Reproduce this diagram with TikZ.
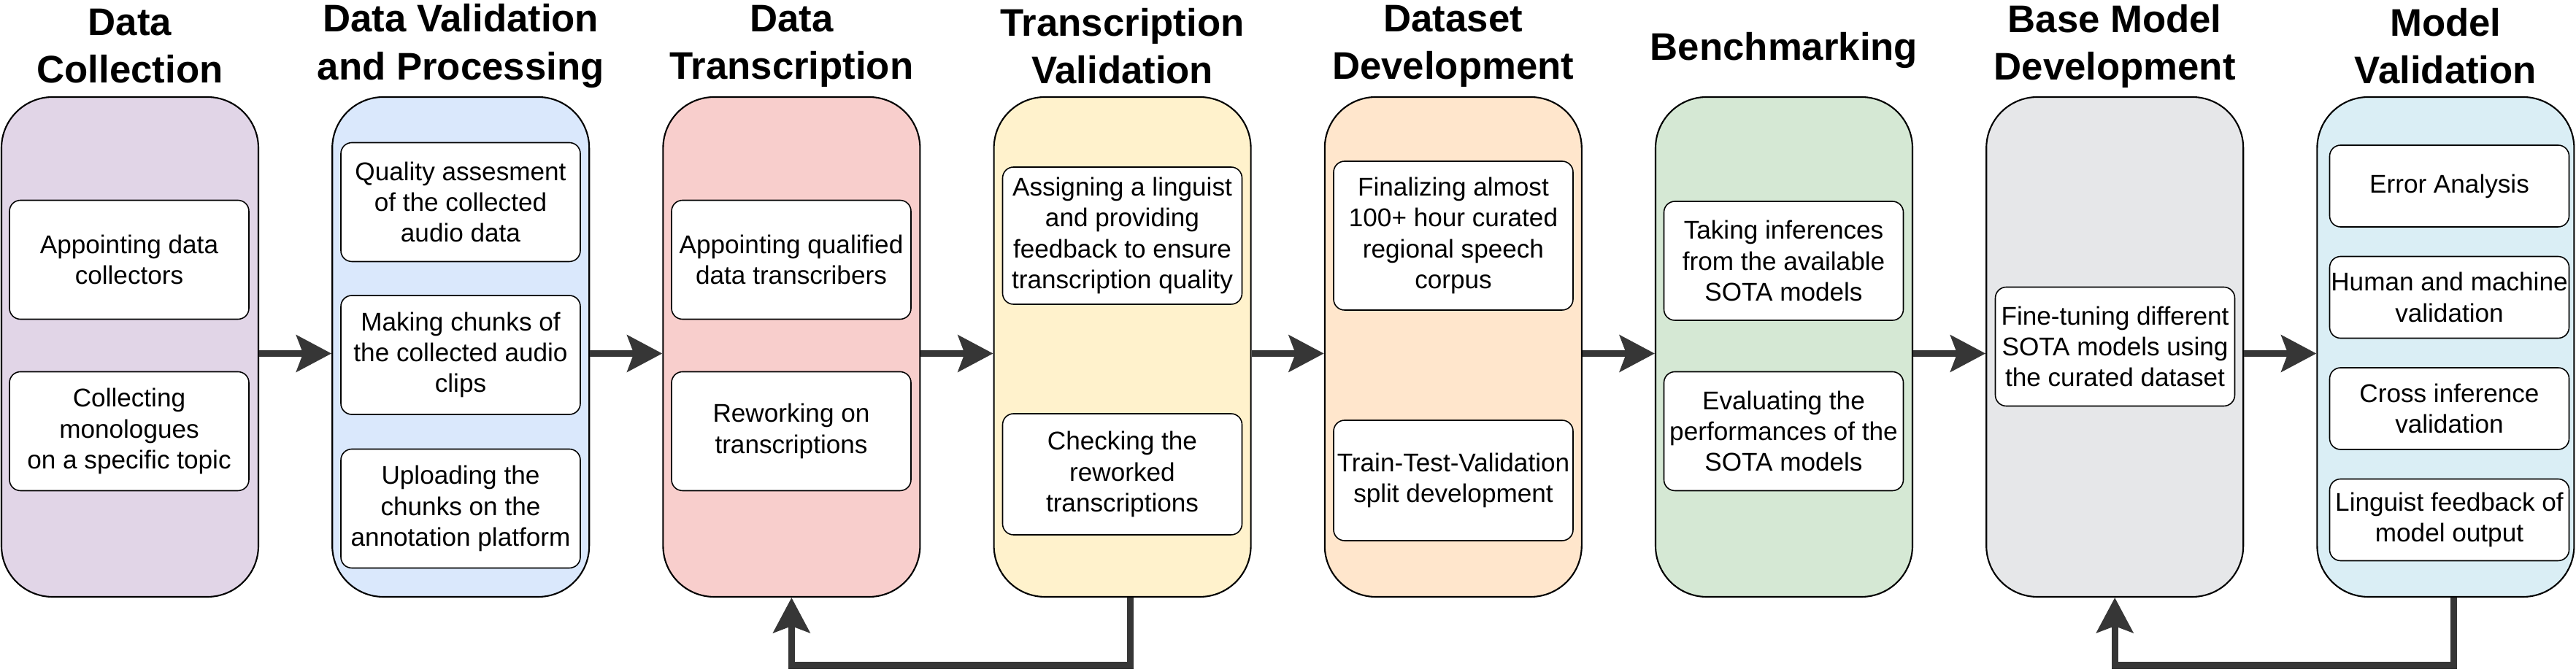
\documentclass[tikz,border=0pt]{standalone}
\usepackage{fontspec}
\setmainfont{Liberation Sans}
\usetikzlibrary{arrows.meta}

\definecolor{collectbg}{HTML}{E1D5E7}
\definecolor{validbg}{HTML}{DAE8FC}
\definecolor{transbg}{HTML}{F8CECC}
\definecolor{checkbg}{HTML}{FFF2CC}
\definecolor{datasetbg}{HTML}{FFE6CC}
\definecolor{benchbg}{HTML}{D5E8D4}
\definecolor{basebg}{HTML}{E6E7E9}
\definecolor{modelbg}{HTML}{DAEEF5}
\definecolor{arrowgray}{HTML}{363636}

\begin{document}
\begin{tikzpicture}[
		stage/.style={draw=black,line width=0.6pt,rounded corners=0.7cm,minimum width=3.52cm,minimum height=6.85cm,inner sep=0pt},
		task/.style={draw=black,line width=0.45pt,fill=white,rounded corners=0.15cm,minimum width=3.28cm,minimum height=1.63cm,inner sep=0pt,align=center,font=\fontsize{10}{12}\selectfont},
		stagetitle/.style={align=center,font=\fontsize{15}{18.5}\selectfont\bfseries},
		flow/.style={draw=arrowgray,line width=2.6pt,-{Stealth[length=0.48cm,width=0.5cm,inset=0.09cm]}}
	]
			\useasboundingbox (0,0) rectangle (35.29,9.21);
			
			\node[stage,fill=collectbg](collect) at (1.78,4.455){};
			\node[stage,fill=validbg](validate) at (6.312,4.455){};
			\node[stage,fill=transbg](transcribe) at (10.844,4.455){};
			\node[stage,fill=checkbg](check) at (15.376,4.455){};
			\node[stage,fill=datasetbg](dataset) at (19.908,4.455){};
			\node[stage,fill=benchbg](bench) at (24.44,4.455){};
			\node[stage,fill=basebg](basemodel) at (28.972,4.455){};
			\node[stage,fill=modelbg](modelval) at (33.504,4.455){};
			
			\node[stagetitle](collect-t) at (1.78,8.58){Data\\Collection};
			\node[stagetitle](validate-t) at (6.312,8.58){Data Validation\\and Processing};
			\node[stagetitle](transcribe-t) at (10.844,8.58){Data\\Transcription};
			\node[stagetitle](check-t) at (15.376,8.58){Transcription\\Validation};
			\node[stagetitle](dataset-t) at (19.908,8.58){Dataset\\Development};
			\node[stagetitle](bench-t) at (24.44,8.52){Benchmarking};
			\node[stagetitle](basemodel-t) at (28.972,8.58){Base Model\\Development};
			\node[stagetitle](modelval-t) at (33.504,8.58){Model\\Validation};
			
			\node[task](collect-a) at (1.77,5.65){Appointing data\\collectors};
			\node[task](collect-b) at (1.77,3.30){Collecting\\monologues\\on a specific topic};
			
			\node[task](validate-a) at (6.31,6.44){Quality assesment\\of the collected\\audio data};
			\node[task](validate-b) at (6.31,4.345){Making chunks of\\the collected audio\\clips};
			\node[task](validate-c) at (6.31,2.24){Uploading the\\chunks on the\\annotation platform};
			
			\node[task](transcribe-a) at (10.84,5.65){Appointing qualified\\data transcribers};
			\node[task](transcribe-b) at (10.84,3.30){Reworking on\\transcriptions};
			
			\node[task,minimum height=1.88cm](check-a) at (15.375,5.98){Assigning a linguist\\and providing\\feedback to ensure\\transcription quality};
			\node[task,minimum height=1.66cm](check-b) at (15.375,2.71){Checking the\\reworked\\transcriptions};
			
			\node[task,minimum height=2.04cm](dataset-a) at (19.91,5.98){Finalizing almost\\100+ hour curated\\regional speech\\corpus};
			\node[task,minimum height=1.65cm](dataset-b) at (19.91,2.625){Train-Test-Validation\\split development};
			
			\node[task](bench-a) at (24.435,5.635){Taking inferences\\from the available\\SOTA models};
			\node[task](bench-b) at (24.435,3.30){Evaluating the\\performances of the\\SOTA models};
			
			\node[task](basemodel-a) at (28.975,4.46){Fine-tuning different\\SOTA models using\\the curated dataset};
			
			\node[task,minimum height=1.12cm](modelval-a) at (33.555,6.66){Error Analysis};
			\node[task,minimum height=1.12cm](modelval-b) at (33.555,5.135){Human and machine\\validation};
			\node[task,minimum height=1.12cm](modelval-c) at (33.555,3.61){Cross inference\\validation};
			\node[task,minimum height=1.12cm](modelval-d) at (33.555,2.085){Linguist feedback of\\model output};
			
			\draw[flow]([yshift=-0.09cm]collect.east)--([yshift=-0.09cm]validate.west);
			\draw[flow]([yshift=-0.09cm]validate.east)--([yshift=-0.09cm]transcribe.west);
			\draw[flow]([yshift=-0.09cm]transcribe.east)--([yshift=-0.09cm]check.west);
			\draw[flow]([yshift=-0.09cm]check.east)--([yshift=-0.09cm]dataset.west);
			\draw[flow]([yshift=-0.09cm]dataset.east)--([yshift=-0.09cm]bench.west);
			\draw[flow]([yshift=-0.09cm]bench.east)--([yshift=-0.09cm]basemodel.west);
			\draw[flow]([yshift=-0.09cm]basemodel.east)--([yshift=-0.09cm]modelval.west);
			
			% feedback loops
			\coordinate(rework-turn) at (10.844,0.09);
			\coordinate(retrain-turn) at (28.972,0.09);
			\draw[flow]([xshift=0.11cm]check.south)|-(rework-turn)--(transcribe.south);
			\draw[flow]([xshift=0.11cm]modelval.south)|-(retrain-turn)--(basemodel.south);
		\end{tikzpicture}
\end{document}
